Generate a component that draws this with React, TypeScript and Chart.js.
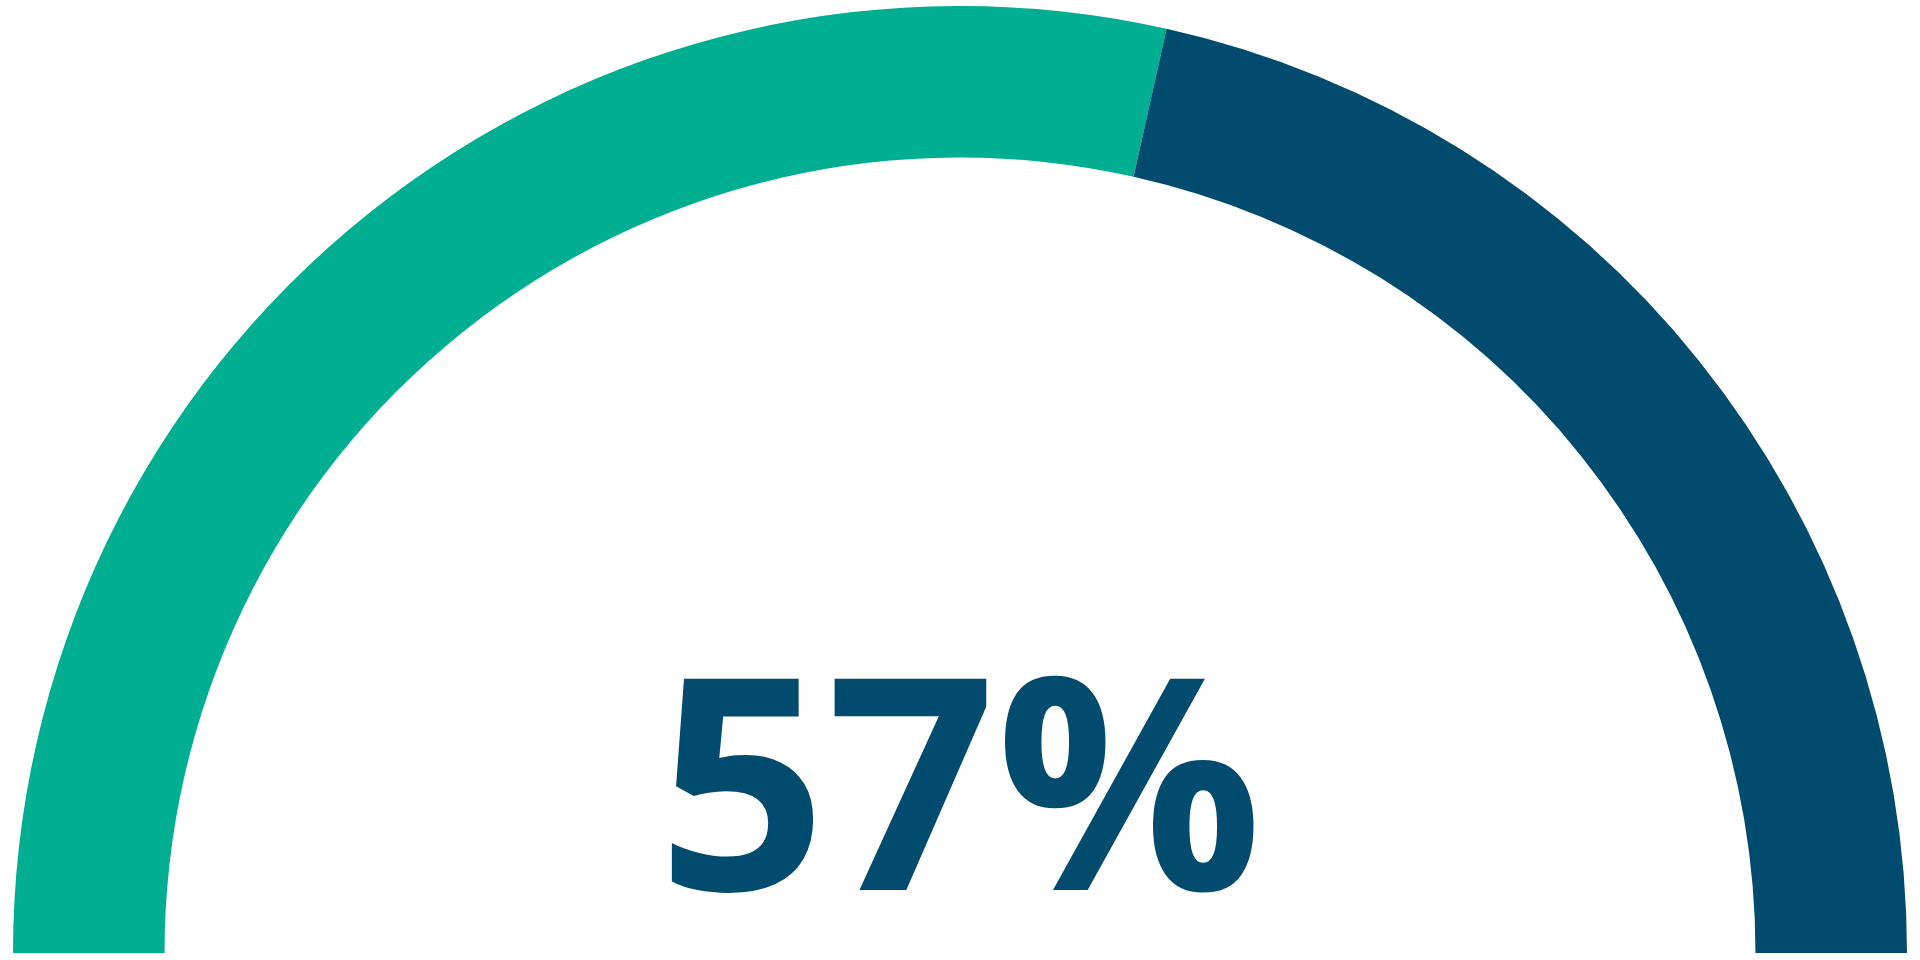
import { useRef, useEffect } from 'react'
import { Chart, registerables } from 'chart.js'
import type { Plugin } from 'chart.js'

Chart.register(...registerables)

const labels = ['Complete', 'Remaining']
const values = [57, 43]
const colors = ['#00AE92', '#004B6E']
const centerLabel = `${values[0]}%`

const centerText: Plugin<'doughnut'> = {
  id: 'centerText',
  afterDraw(chart) {
    const arc = chart.getDatasetMeta(0).data[0] as any
    if (!arc) return
    const { ctx } = chart
    ctx.save()
    ctx.font = 'bold 296px "Open Sans", "Noto Sans", sans-serif'
    ctx.fillStyle = '#004B6E'
    ctx.textAlign = 'center'
    ctx.textBaseline = 'alphabetic'
    ctx.fillText(centerLabel, arc.x, arc.y - 63)
    ctx.restore()
  },
}

export default function App() {
  const canvasRef = useRef<HTMLCanvasElement>(null)
  const chartRef = useRef<Chart<'doughnut'> | null>(null)

  useEffect(() => {
    if (!canvasRef.current) return
    const ctx = canvasRef.current.getContext('2d')
    if (!ctx) return

    chartRef.current = new Chart(ctx, {
      type: 'doughnut',
      data: {
        labels,
        datasets: [{
          data: values,
          backgroundColor: colors,
          borderWidth: 0,
        }],
      },
      options: {
        animation: false,
        responsive: true,
        maintainAspectRatio: false,
        rotation: -90,
        circumference: 180,
        cutout: '84%',
        layout: { padding: { left: 13, right: 13, top: 6, bottom: 7 } },
        plugins: {
          legend: { display: false },
          tooltip: { enabled: false },
        },
      },
      plugins: [centerText],
    })

    return () => { chartRef.current?.destroy() }
  }, [])

  return (
    <div style={{ position: 'fixed', left: 0, top: 0, width: 1920, height: 960, background: '#fff' }}>
      <canvas ref={canvasRef} />
    </div>
  )
}
